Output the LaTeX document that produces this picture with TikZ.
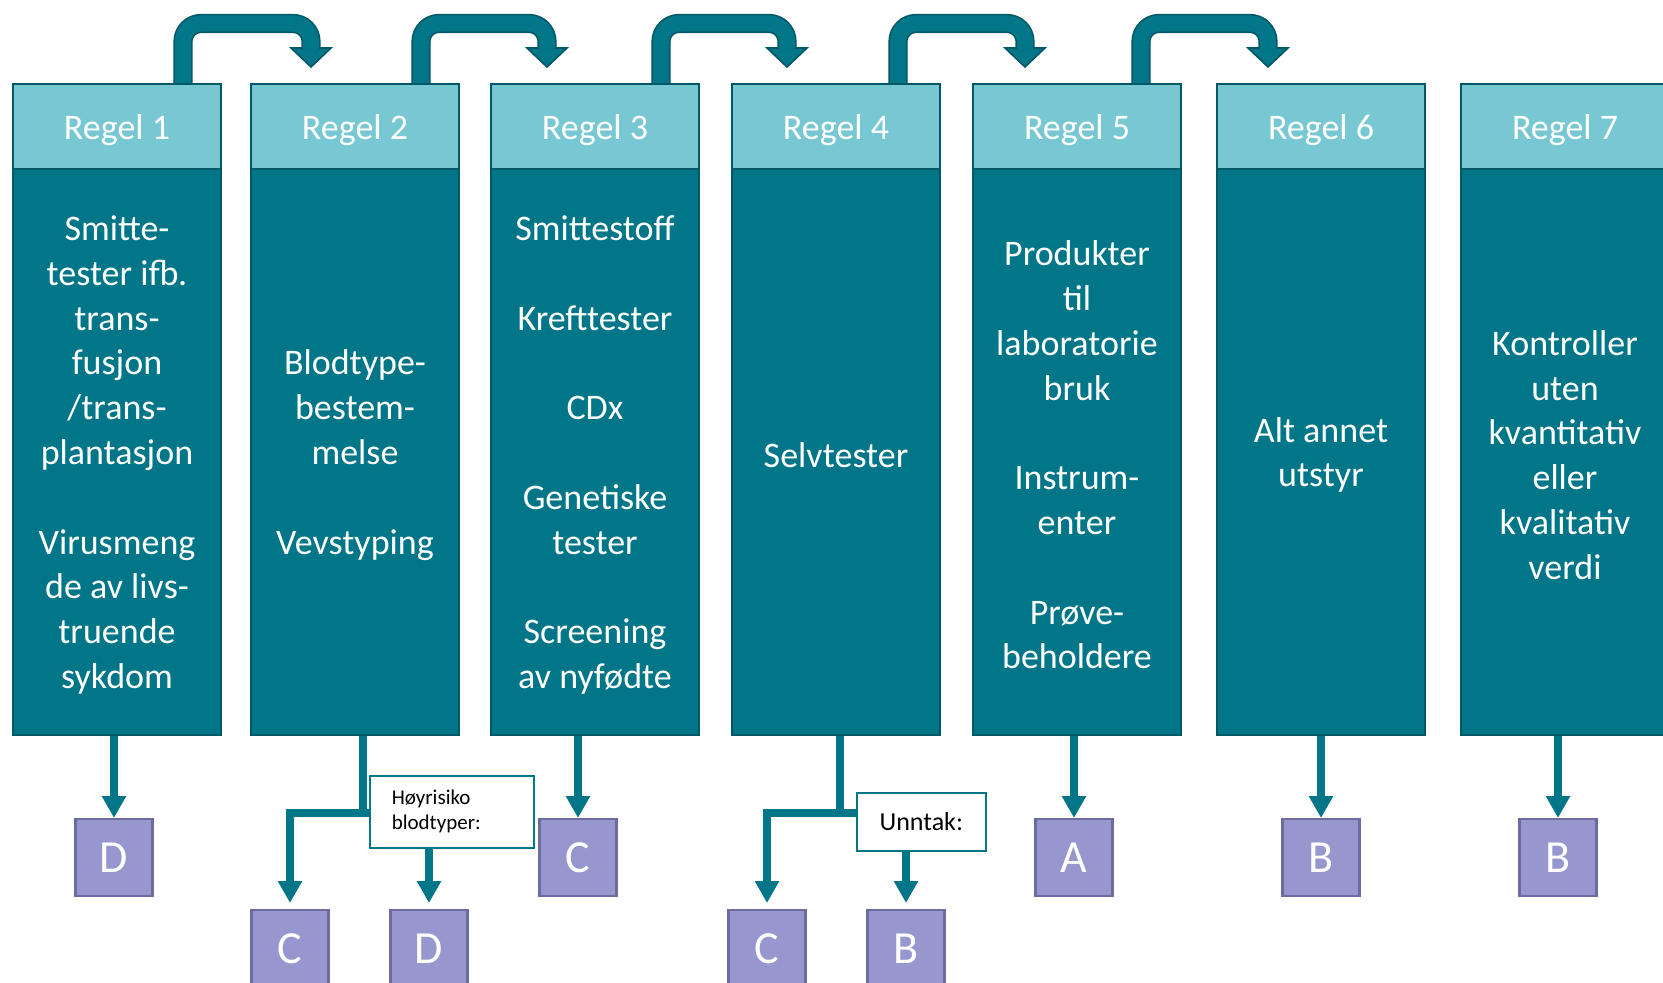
\documentclass[tikz,border=0pt]{standalone}
\usepackage{fontspec}
\setmainfont{Carlito}
\usetikzlibrary{arrows.meta}
\definecolor{tealbody}{RGB}{0,118,136}
\definecolor{tealhead}{RGB}{119,200,210}
\definecolor{tealedge}{RGB}{0,88,102}
\definecolor{lilac}{RGB}{151,151,207}
\definecolor{lilacedge}{RGB}{110,108,158}

\begin{document}
\begin{tikzpicture}[x=0.5pt,y=-0.5pt,
  head/.style={draw=tealedge, line width=1pt, fill=tealhead, minimum width=104pt,
    minimum height=42.5pt, inner sep=0pt, anchor=north west},
  body/.style={draw=tealedge, line width=1pt, fill=tealbody, minimum width=104pt,
    minimum height=283pt, inner sep=0pt, anchor=north west},
  whitetext/.style={text=white, align=center, inner sep=0pt,
    font=\fontsize{18}{22.4}\selectfont},
  grade/.style={draw=lilacedge, line width=1.2pt, fill=lilac, minimum size=38.5pt,
    inner sep=0pt, anchor=north, text=white, font=\fontsize{23}{27}\selectfont},
  note/.style={draw=tealbody, line width=0.8pt, fill=white, inner sep=0pt,
    anchor=north west, text=black},
  link/.style={draw=tealbody, line width=4pt, -{Triangle[width=11.5pt,length=11pt]}},
  stem/.style={draw=tealbody, line width=4pt},
  jump/.style={draw=tealedge, line width=0.8pt, double=tealbody, double distance=8pt,
    rounded corners=9pt},
  jumphead/.style={draw=tealedge, line width=0.8pt, fill=tealbody, line join=miter}
]
\useasboundingbox (0,0) rectangle (1663,983);
\clip (0,0) rectangle (1663,983);

% bent arrows from each rule to the next one
\foreach \s/\t in {183/311, 421/547, 661/787, 898/1025, 1141/1268}{
  \path[jumphead] (\t-20,48) -- (\t+20,48) -- (\t,67) -- cycle;
  \path[jump] (\s,90) -- (\s,23.5) -- (\t,23.5) -- (\t,49.2);
}

% rule columns: header and body
\foreach \i/\x in {1/12, 2/250, 3/490, 4/731, 5/972, 6/1216, 7/1460}{
  \node[head] (h\i) at (\x,83) {};
  \node[whitetext] (ht\i) at ([yshift=-2pt]h\i.center) {Regel \i};
  \node[body] (r\i) at (\x,168) {};
}
\node[whitetext] (t1) at ([yshift=-1.5pt]r1.center)
  {Smitte-\\tester ifb.\\trans-\\fusjon\\/trans-\\plantasjon\\[22.4pt]Virusmeng\\de av livs-\\truende\\sykdom};
\node[whitetext] (t2) at ([yshift=-1.5pt]r2.center)
  {Blodtype-\\bestem-\\melse\\[22.4pt]Vevstyping};
\node[whitetext] (t3) at ([yshift=-1.5pt]r3.center)
  {Smittestoff\\[22.4pt]Krefttester\\[22.4pt]CDx\\[22.4pt]Genetiske\\tester\\[22.4pt]Screening\\av nyfødte};
\node[whitetext] (t4) at ([yshift=-1.5pt]r4.center)
  {Selvtester};
\node[whitetext] (t5) at ([yshift=-1.5pt]r5.center)
  {Produkter\\til\\laboratorie\\bruk\\[22.4pt]Instrum-\\enter\\[22.4pt]Prøve-\\beholdere};
\node[whitetext] (t6) at ([yshift=-1.5pt]r6.center)
  {Alt annet\\utstyr};
\node[whitetext] (t7) at ([yshift=-1.5pt]r7.center)
  {Kontroller\\uten\\kvantitativ\\eller\\kvalitativ\\verdi};

% risk classes
\node[grade] (d1) at (114,818) {D};
\node[grade] (c2) at (290,909) {C};
\node[grade] (d2) at (429,909) {D};
\node[grade] (c3) at (578,818) {C};
\node[grade] (c4) at (767,909) {C};
\node[grade] (b4) at (906,909) {B};
\node[grade] (a5) at (1074,818) {A};
\node[grade] (b6) at (1321,818) {B};
\node[grade] (b7) at (1558,818) {B};

% straight links
\draw[link] (d1.north |- r1.south) -- (d1.north);
\draw[link] (c3.north |- r3.south) -- (c3.north);
\draw[link] (a5.north |- r5.south) -- (a5.north);
\draw[link] (b6.north |- r6.south) -- (b6.north);
\draw[link] (b7.north |- r7.south) -- (b7.north);

% split links
\coordinate (s2) at (363,813);
\coordinate (s4) at (840,813);
\draw[stem] (s2 |- r2.south) -- (s2);
\draw[stem] (s4 |- r4.south) -- (s4);
\draw[link, shorten >=3pt] (380,813) -- (c2.north |- s2) -- (c2.north);
\draw[link, shorten >=3pt] (870,813) -- (c4.north |- s4) -- (c4.north);

\node[note, minimum width=82pt, minimum height=36pt, inner xsep=11pt, text width=60pt,
  align=left, font=\fontsize{10.5}{12.5}\selectfont] (n2) at (369,775) {Høyrisiko\\blodtyper:};
\node[note, minimum width=64.5pt, minimum height=29pt, font=\fontsize{13}{15}\selectfont]
  (n4) at (856,792) {Unntak:};

\draw[link, shorten >=3pt] (d2.north |- n2.south) -- (d2.north);
\draw[link, shorten >=3pt] (b4.north |- n4.south) -- (b4.north);
\end{tikzpicture}
\end{document}
